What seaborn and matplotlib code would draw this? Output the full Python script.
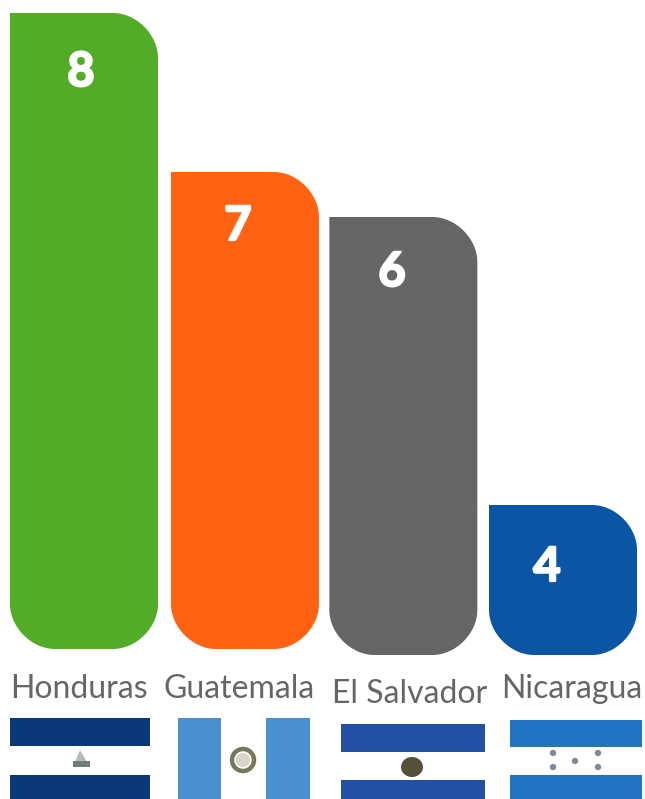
import matplotlib
matplotlib.use("Agg")
import matplotlib.pyplot as plt
import matplotlib.patheffects as pe
from matplotlib.path import Path
from matplotlib.patches import PathPatch, Rectangle, Ellipse, Polygon, Circle
import pandas as pd
import seaborn as sns

countries = ["Honduras", "Guatemala", "El Salvador", "Nicaragua"]
counts = [8, 7, 6, 4]
# drawn bar lengths, the bars are not in proportion to the printed counts
bar_heights = [636, 477, 438, 150]
bar_colors = ["#52AC28", "#FF6311", "#666666", "#0B55A5"]

W, H = 645, 799
STEP = 159.67
BAR_W = 148 / STEP
RADIUS = 45


def py(y):
    # picture rows count from the top, the axis from the bottom
    return H - y


def rounded_bar(x0, x1, y0, y1, r):
    rx = r / STEP
    k = 0.48
    verts = [
        (x0, y1),
        (x1 - rx, y1),
        (x1 - rx * k, y1), (x1, y1 - r * k), (x1, y1 - r),
        (x1, y0 + r),
        (x1, y0 + r * k), (x1 - rx * k, y0), (x1 - rx, y0),
        (x0 + rx, y0),
        (x0 + rx * k, y0), (x0, y0 + r * k), (x0, y0 + r),
        (x0, y1),
    ]
    codes = [Path.MOVETO, Path.LINETO, Path.CURVE4, Path.CURVE4, Path.CURVE4,
             Path.LINETO, Path.CURVE4, Path.CURVE4, Path.CURVE4,
             Path.LINETO, Path.CURVE4, Path.CURVE4, Path.CURVE4, Path.CLOSEPOLY]
    return Path(verts, codes)


sns.set_theme(style="white")
plt.rcParams["font.family"] = ["Lato", "DejaVu Sans"]

df = pd.DataFrame({"country": countries, "height": bar_heights})

fig = plt.figure(figsize=(6.45, 7.99), dpi=100)
ax = fig.add_axes([0, 0, 1, 1])

sns.barplot(
    data=df, x="country", y="height", hue="country", palette=bar_colors,
    width=BAR_W, legend=False, ax=ax, saturation=1, bottom=0,
)

ax.set_xlim(-84 / STEP, (W - 84) / STEP)
ax.set_ylim(0, H)
ax.axis("off")

# swap the square bars for the rounded shape, keeping their size and colour
base_rows = [649, 649, 655, 655]
nudges = [0, 1.3, 0, 0]
label_x = [79, 239.5, 410, 572]
label_base = [698, 698, 703, 698]
count_pos = [(81, 72), (238, 226), (392, 272), (547, 567)]

for i, bar in enumerate(list(ax.patches)):
    x0 = bar.get_x() + nudges[i] / STEP
    x1 = x0 + bar.get_width()
    y0 = py(base_rows[i])
    y1 = y0 + bar.get_height()
    ax.add_patch(PathPatch(rounded_bar(x0, x1, y0, y1, RADIUS),
                           facecolor=bar.get_facecolor(), edgecolor="none"))
    bar.set_visible(False)

# everything below is placed in picture pixels
pix = matplotlib.transforms.Affine2D().scale(1 / W, 1 / H) + ax.transAxes

for i, name in enumerate(countries):
    ax.text(label_x[i], py(label_base[i]), name, transform=pix, ha="center",
            va="baseline", fontsize=23, color="#666666")
    cx, cy = count_pos[i]
    ax.text(cx, py(cy), str(counts[i]), transform=pix, ha="center",
            va="center", fontsize=34, fontweight="bold", color="white",
            family=["Liberation Sans Narrow", "Lato"],
            path_effects=[pe.withStroke(linewidth=1.6, foreground="white")])


def rect(x0, y0, x1, y1, color):
    ax.add_patch(Rectangle((x0, py(y1)), x1 - x0, y1 - y0, facecolor=color,
                           edgecolor="none", transform=pix))


def stripes(x0, x1, y0, y1, y2, y3, color):
    rect(x0, y0, x1, y1, color)
    rect(x0, y2, x1, y3, color)


# Nicaragua flag
stripes(10, 150, 718, 746, 775, 799, "#0A3878")
ax.add_patch(Polygon([(73, py(767)), (90, py(767)), (80, py(750))],
                     facecolor="#B5BBB5", edgecolor="none", transform=pix))
rect(73, 761, 90, 767, "#6F7F78")

# Guatemala flag
rect(178, 718, 221, 799, "#4A90D0")
rect(266, 718, 310, 799, "#4A90D0")
ax.add_patch(Circle((243, py(760)), 7, facecolor="#D8D8C8", edgecolor="none",
                    transform=pix))
ax.add_patch(Circle((243, py(760)), 11, facecolor="none", edgecolor="#77775A",
                    linewidth=3.2, transform=pix))

# El Salvador flag
stripes(341, 485, 724, 752, 780, 799, "#2350A5")
ax.add_patch(Ellipse((412, py(767)), 22, 20, facecolor="#55503A",
                     edgecolor="none", transform=pix))

# Honduras flag
stripes(510, 642, 720, 747, 775, 799, "#2273C3")
for sx, sy in [(553, 753), (598, 753), (575, 761), (553, 767), (598, 767)]:
    ax.add_patch(Circle((sx, py(sy)), 3.2, facecolor="#7E8A9A",
                        edgecolor="none", transform=pix))

plt.savefig("out.png", dpi=100)
plt.close()
